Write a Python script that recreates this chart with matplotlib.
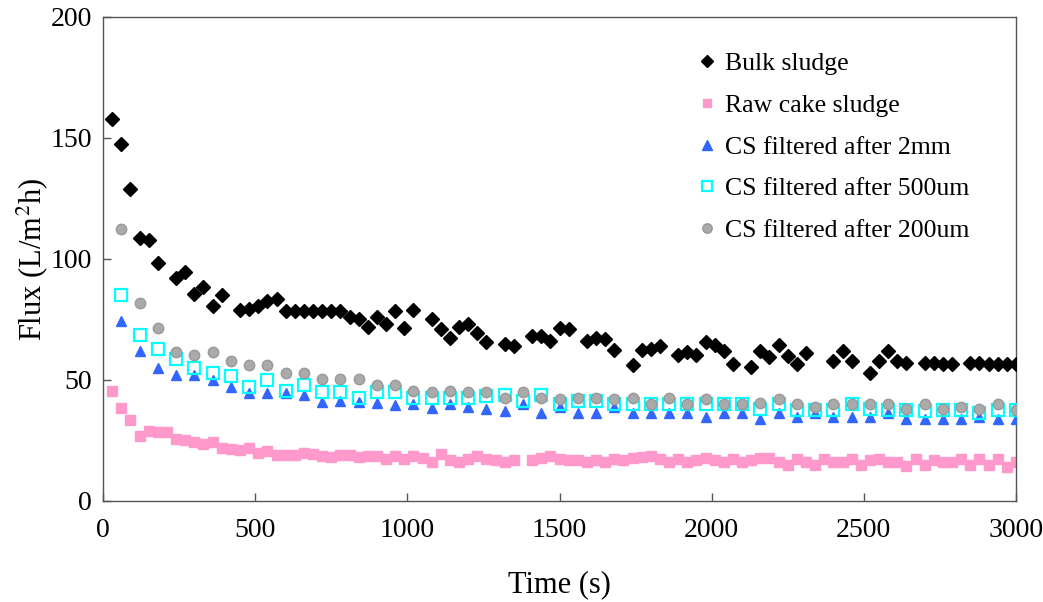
import matplotlib.pyplot as plt

plt.rcParams["font.family"] = "Liberation Serif"
plt.rcParams["mathtext.fontset"] = "stix"

# Bulk sludge (every 30 s, a few gaps)
bulk_t = [30, 60, 90, 120, 150, 180, 240, 270, 300, 330, 360, 390, 450, 480, 510,
          540, 570, 600, 630, 660, 690, 720, 750, 780, 810, 840, 870, 900, 930, 960,
          990, 1020, 1080, 1110, 1140, 1170, 1200, 1230, 1260, 1320, 1350, 1410, 1440,
          1470, 1500, 1530, 1590, 1620, 1650, 1680, 1740, 1770, 1800, 1830, 1890, 1920,
          1950, 1980, 2010, 2040, 2070, 2130, 2160, 2190, 2220, 2250, 2280, 2310, 2400,
          2430, 2460, 2520, 2550, 2580, 2610, 2640, 2700, 2730, 2760, 2790, 2850, 2880,
          2910, 2940, 2970, 3000]
bulk_v = [158, 147.5, 129, 108.5, 108, 98.5, 92, 94.5, 85.5, 88.5, 80.5, 85, 79, 79.5, 80.5,
          82.5, 83.5, 78.5, 78.5, 78.5, 78.5, 78.5, 78.5, 78.5, 76, 75, 72, 76, 73, 78.5,
          71.5, 79, 75, 71, 67.5, 72, 73, 69.5, 65.5, 65, 64, 68, 68,
          66, 71.5, 71, 66, 67.5, 67, 62.5, 56, 62.5, 63, 64, 60.5, 61.5,
          60.5, 65.5, 64.5, 62, 56.5, 55.5, 62, 59.5, 64.5, 60, 56.5, 61, 58,
          62, 58, 53, 58, 62, 58, 57, 57, 57, 56.5, 56.5, 57, 57,
          56.5, 56.5, 56.5, 56.5]

# Raw cake sludge (every 30 s)
raw_t = [30, 60, 90, 120, 150, 180, 210, 240, 270, 300, 330, 360, 390, 420, 450, 480,
         510, 540, 570, 600, 630, 660, 690, 720, 750, 780, 810, 840, 870, 900, 930, 960,
         990, 1020, 1050, 1080, 1110, 1140, 1170, 1200, 1230, 1260, 1290, 1320, 1350,
         1410, 1440, 1470, 1500, 1530, 1560, 1590, 1620, 1650, 1680, 1710, 1740, 1770,
         1800, 1830, 1860, 1890, 1920, 1950, 1980, 2010, 2040, 2070, 2100, 2130, 2160,
         2190, 2220, 2250, 2280, 2310, 2340, 2370, 2400, 2430, 2460, 2490, 2520, 2550,
         2580, 2610, 2640, 2670, 2700, 2730, 2760, 2790, 2820, 2850, 2880, 2910, 2940,
         2970, 3000]
raw_v = [45.5, 38.5, 33.5, 27, 29, 28.5, 28.5, 25.5, 25, 24.3, 23.5, 24.3, 22, 21.5, 21.2, 22,
         19.8, 20.5, 19, 19, 19, 19.8, 19.3, 18.6, 18, 19, 19, 18, 18.6, 18.6, 17.5, 18.6,
         17.2, 18.4, 17.7, 16.3, 19.5, 17, 16, 17.2, 18.6, 17.2, 17, 16.3, 17,
         17, 17.9, 18.6, 17.2, 17, 17, 16.3, 17, 16.3, 17.2, 17, 17.7, 18.1,
         18.6, 17.2, 16.3, 17.2, 16.3, 17, 17.7, 17, 16, 17.2, 16.3, 17, 17.7,
         17.7, 16.3, 15, 17.2, 16, 15, 17.2, 16, 16, 17.2, 15, 17, 17.2,
         16.3, 16, 14.6, 17.2, 15, 17, 16, 16, 17.2, 15, 17.2, 15, 17.2,
         14, 16.3]

# Filtered cake sludge (every 60 s)
cs_t = [60 * i for i in range(1, 51)]
cs2mm_v = [74.5, 62, 55, 52, 52, 50, 47, 44.5, 44.5, 44.5, 44, 41, 41.5, 41, 40.5, 39.5,
           40, 38.5, 40, 39, 38, 37, 40, 36.5, 39, 36.5, 36.5, 39, 36.5, 36.5, 36.5, 36.5,
           34.5, 36.5, 36.5, 34, 36.5, 34.5, 36.5, 34.5, 34.5, 34.5, 36.5, 34, 34, 34,
           34, 34.5, 34, 34]
cs500_v = [85, 68.5, 63, 58.5, 55, 53, 51.5, 47, 50, 45.5, 48, 45, 45, 42.5, 45, 45,
           42.5, 42.5, 42.5, 42.5, 43.5, 44, 41.5, 44, 40, 41.5, 41.5, 40, 40, 40, 40, 40,
           40, 40, 40, 38, 40, 37.5, 37.5, 37.5, 40, 38, 37.5, 37.5, 37, 37.5,
           37.5, 36.5, 37.5, 37.5]
cs200_v = [112.5, 82, 71.5, 61.5, 60.5, 61.5, 58, 56, 56, 53, 53, 50.5, 50.5, 50.5, 48, 48,
           45.5, 45, 45.5, 45, 45, 42.5, 45, 42.5, 42, 42.5, 42.5, 42, 42.5, 40, 42.5, 40,
           42, 40, 40, 40.5, 42, 40, 39, 40, 40, 40, 40, 38, 40, 38,
           39, 38, 40, 37.5]

fig = plt.figure(figsize=(10.43, 6.02), dpi=100)
ax = fig.add_axes([0.0988, 0.1678, 0.8753, 0.804])

ax.plot(bulk_t, bulk_v, "D", color="black", ms=7, label="Bulk sludge", zorder=3)
ax.plot(raw_t, raw_v, "s", color="#ff99cc", ms=6.5, label="Raw cake sludge", zorder=2)
ax.plot(cs_t, cs2mm_v, "^", color="#3366ff", ms=7.5, label="CS filtered after 2mm", zorder=3)
ax.plot(cs_t, cs500_v, "s", mfc="none", mec="#00ffff", mew=1.6, ms=8.5,
        label="CS filtered after 500um", zorder=4)
ax.plot(cs_t, cs200_v, "o", color="#aaaaaa", mec="#999999", ms=7.5,
        label="CS filtered after 200um", zorder=5)

ax.set_xlim(0, 3000)
ax.set_ylim(0, 200)
ax.set_xticks(range(0, 3001, 500))
ax.set_yticks(range(0, 201, 50))
ax.tick_params(direction="in", length=6, width=1, color="#555555", labelsize=20)
ax.tick_params(axis="x", pad=12)
ax.tick_params(axis="y", pad=8)
for s in ax.spines.values():
    s.set_color("#555555")
    s.set_linewidth(1)

ax.set_xlabel("Time (s)", fontsize=22, labelpad=20)
ax.set_ylabel("Flux (L/m$^2$h)", fontsize=22, labelpad=0)

ax.legend(loc="upper left", bbox_to_anchor=(0.622, 0.975), frameon=False, fontsize=18.5,
          handlelength=1.0, handletextpad=0.2, labelspacing=0.73, markerscale=0.9)

plt.savefig("out.png", dpi=100)
